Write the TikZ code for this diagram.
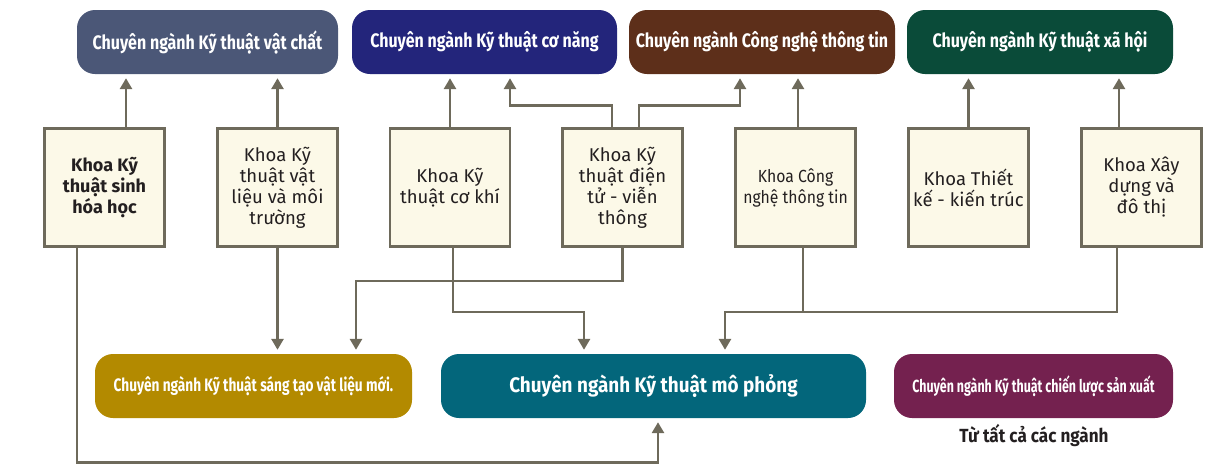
\documentclass[tikz,border=0pt]{standalone}
\usepackage{fontspec}
\setmainfont{Fira Sans}
\newfontfamily\condfont[FakeStretch=0.82]{Fira Sans}
\newfontfamily\narrowfont[FakeStretch=0.76]{Fira Sans}
\newfontfamily\tightfont[FakeStretch=0.71]{Fira Sans}
\newfontfamily\semicondfont[FakeStretch=0.9]{Fira Sans}
\usepackage{xcolor}
\usetikzlibrary{
    positioning,
    arrows.meta,
}
\definecolor{vatchatcol}{HTML}{4B5777}
\definecolor{conangcol}{HTML}{23257B}
\definecolor{cnttcol}{HTML}{5D2F1A}
\definecolor{xahoicol}{HTML}{0A4B39}
\definecolor{sangtaocol}{HTML}{B38A00}
\definecolor{mophongcol}{HTML}{03667B}
\definecolor{chienluoccol}{HTML}{74214F}
\definecolor{linecol}{HTML}{6E6A5B}
\definecolor{khoafill}{HTML}{FCF9E8}
\definecolor{textdark}{HTML}{231F20}
\tikzset{
    % Block styles
    major/.style={rectangle, rounded corners=18pt, minimum height=64pt,
                  text=white, align=center,
                  font=\condfont\bfseries\fontsize{19.5}{22}\selectfont},
    khoa/.style={rectangle, draw=linecol, line width=2.8pt, fill=khoafill,
                 minimum width=120pt, minimum height=118pt, align=center,
                 text=textdark, font=\fontsize{18.5}{21}\selectfont},
    % Arrow styles
    link/.style={draw=linecol, line width=2.8pt},
    arrow/.style={link, -{Triangle[length=11pt, width=12pt]}, shorten >=4pt},
}

\begin{document}
\begin{tikzpicture}[x=1pt, y=1pt]
    \useasboundingbox (0,0) rectangle (1208,-472);

    % Top row: specialisations
    \node[major, fill=vatchatcol, minimum width=261pt] (vatchat) at (207.5,-42) {Chuyên ngành Kỹ thuật vật chất};
    \node[major, fill=conangcol, minimum width=265pt] (conang) at (484.5,-42) {Chuyên ngành Kỹ thuật cơ năng};
    \node[major, fill=cnttcol, minimum width=266pt] (cntt) at (762,-42) {Chuyên ngành Công nghệ thông tin};
    \node[major, fill=xahoicol, minimum width=266pt] (xahoi) at (1040,-42) {Chuyên ngành Kỹ thuật xã hội};

    % Middle row: faculties
    \node[khoa, font=\bfseries\fontsize{18}{21}\selectfont] (sinhhoa) at (104.5,-187.5) {Khoa Kỹ\\thuật sinh\\hóa học};
    \node[khoa] (vatlieu) at (277.5,-187.5) {Khoa Kỹ\\thuật vật\\liệu và môi\\trường};
    \node[khoa] (cokhi) at (450,-187.5) {Khoa Kỹ\\thuật cơ khí};
    \node[khoa] (dientu) at (622.5,-187.5) {Khoa Kỹ\\thuật điện\\tử - viễn\\thông};
    \node[khoa, font=\semicondfont\fontsize{17.5}{21}\selectfont] (congnghe) at (795.5,-187.5) {Khoa Công\\nghệ thông tin};
    \node[khoa] (thietke) at (968.5,-187.5) {Khoa Thiết\\kế - kiến trúc};
    \node[khoa] (xaydung) at (1141.5,-187.5) {Khoa Xây\\dựng và\\đô thị};

    % Bottom row
    \node[major, fill=sangtaocol, minimum width=317pt, font=\narrowfont\bfseries\fontsize{18}{21}\selectfont] (sangtao) at (253.5,-386) {Chuyên ngành Kỹ thuật sáng tạo vật liệu mới.};
    \node[major, fill=mophongcol, minimum width=425pt, font=\semicondfont\bfseries\fontsize{21}{24}\selectfont] (mophong) at (653.5,-386) {Chuyên ngành Kỹ thuật mô phỏng};
    \node[major, fill=chienluoccol, minimum width=279pt, font=\tightfont\bfseries\fontsize{17.5}{21}\selectfont] (chienluoc) at (1033.5,-386) {Chuyên ngành Kỹ thuật chiến lược sản xuất};
    \node[font=\semicondfont\bfseries\fontsize{19}{22}\selectfont, text=textdark] (tatca) at (1034,-436) {Từ tất cả các ngành};

    % Faculties up to top row
    \draw[arrow] ([xshift=21.5pt]sinhhoa.north) -- ([xshift=21.5pt]sinhhoa.north |- vatchat.south);
    \draw[arrow] (vatlieu.north) -- (vatlieu.north |- vatchat.south);
    \draw[arrow] (cokhi.north) -- (cokhi.north |- conang.south);
    \draw[arrow] ([xshift=-10.5pt]dientu.north) -- ++(0,22) -| ([xshift=25.5pt]conang.south);
    \draw[arrow] ([xshift=16.5pt]dientu.north) -- ++(0,22) -| ([xshift=-22pt]cntt.south);
    \draw[arrow] ([xshift=2.5pt]congnghe.north) -- ([xshift=2.5pt]congnghe.north |- cntt.south);
    \draw[arrow] (thietke.north) -- (thietke.north |- xahoi.south);
    \draw[arrow] ([xshift=-22.5pt]xaydung.north) -- ([xshift=-22.5pt]xaydung.north |- xahoi.south);

    % Faculties down to bottom row
    \draw[arrow] ([xshift=-27.5pt]sinhhoa.south) -- ++(0,-214.5) -| ([xshift=4.5pt]mophong.south);
    \draw[arrow] (vatlieu.south) -- (vatlieu.south |- sangtao.north);
    \draw[arrow] (dientu.south) -- ++(0,-33) -| ([xshift=102.5pt]sangtao.north);
    \draw[arrow] ([xshift=3pt]cokhi.south) -- ++(0,-64) -| ([xshift=-69.5pt]mophong.north);
    \draw[link] ([xshift=7.5pt]congnghe.south) -- ++(0,-65.4);
    \draw[arrow] ([xshift=-24.5pt]xaydung.south) -- ++(0,-64) -| ([xshift=71.5pt]mophong.north);
\end{tikzpicture}
\end{document}
